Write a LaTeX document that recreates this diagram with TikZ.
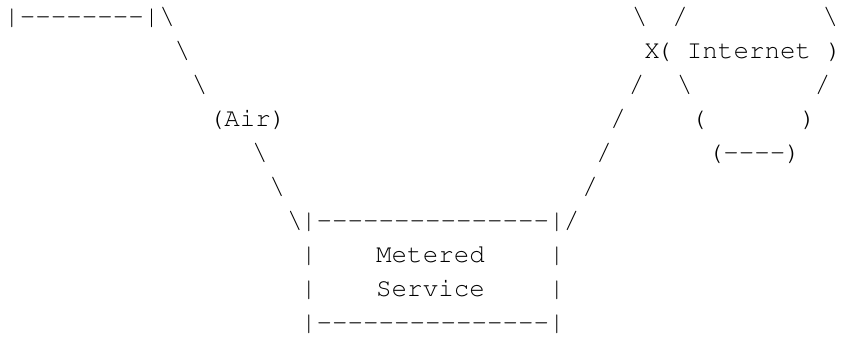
\documentclass[tikz,border=0pt]{standalone}
\usepackage[T1,TU]{fontenc}
\tikzset{
    ascii/.style = {anchor=base west, inner sep=0pt, outer sep=0pt, font=\fontencoding{T1}\fontfamily{pcr}\fontsize{12.92pt}{17pt}\selectfont, text=black},
}
\newcommand{\bs}{\textbackslash}
\newcommand{\hy}{{-}}

\begin{document}
\begin{tikzpicture}[x=7.75pt,y=-17pt]
\useasboundingbox (-0.274,-0.735) rectangle (54.05,9.647);
% row 0
\node[ascii] at (0,0) (lan) {|\hy\hy\hy\hy\hy\hy\hy\hy|\bs};
\node[ascii] at (40.5,0) (s0) {\bs};
\node[ascii] at (43.1,0) (s1) {/};
\node[ascii] at (52.8,0) (s2) {\bs};
% row 1
\node[ascii] at (11,1) (a1) {\bs};
\node[ascii] at (41.3,1) (x) {X};
\node[ascii] at (42.05,1) (inet) {( Internet )};
% row 2
\node[ascii] at (12.1,2) (a2) {\bs};
\node[ascii] at (40.3,2) (s3) {/};
\node[ascii] at (43.4,2) (s4) {\bs};
\node[ascii] at (52.3,2) (s5) {/};
% row 3
\node[ascii] at (13.2,3) (air) {(Air)};
\node[ascii] at (39.1,3) (s6) {/};
\node[ascii] at (44.3,3) (c1) {(};
\node[ascii] at (51.4,3) (c2) {)};
% row 4
\node[ascii] at (16,4) (a3) {\bs};
\node[ascii] at (38.2,4) (s7) {/};
\node[ascii] at (45.4,4) (c3) {(\hy\hy\hy\hy)};
% row 5
\node[ascii] at (17.1,5) (a4) {\bs};
\node[ascii] at (37.3,5) (s8) {/};
% row 6
\node[ascii] at (18.25,6) (a5) {\bs};
\node[ascii] at (19.15,6) (boxtop) {|\hy\hy\hy\hy\hy\hy\hy\hy\hy\hy\hy\hy\hy\hy\hy|};
\node[ascii] at (36.1,6) (s9) {/};
% metered box
\node[ascii] at (19.15,7) (l1) {|};
\node[ascii] at (24,7) (meter) {Metered};
\node[ascii] at (35.15,7) (r1) {|};
\node[ascii] at (19.15,8) (l2) {|};
\node[ascii] at (24,8) (serv) {Service};
\node[ascii] at (35.15,8) (r2) {|};
\node[ascii] at (19.15,9) (boxbot) {|\hy\hy\hy\hy\hy\hy\hy\hy\hy\hy\hy\hy\hy\hy\hy|};

\end{tikzpicture}
\end{document}
